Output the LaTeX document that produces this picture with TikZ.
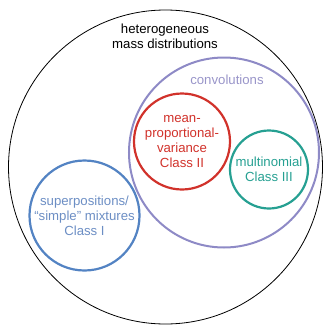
\documentclass[tikz,border=0pt]{standalone}
\usepackage{fontspec}
\setmainfont{Liberation Sans}
\usepackage{tikz}
\usetikzlibrary{positioning}
\definecolor{convcol}{HTML}{8E8AC6}
\definecolor{convtext}{HTML}{9995C9}
\definecolor{mpvcol}{HTML}{D1322B}
\definecolor{multicol}{HTML}{26A092}
\definecolor{supcol}{HTML}{5383C3}
\definecolor{suptext}{HTML}{6C8EC4}
\tikzstyle{ring}=[circle, draw, inner sep=0pt, line width=2.2pt]
\tikzstyle{lbl}=[align=center, inner sep=0pt, font=\fontsize{13.2}{15}\selectfont]

\begin{document}
\begin{tikzpicture}[x=1pt,y=-1pt]
	\useasboundingbox (0,0) rectangle (323,325);
	% big circle
	\node[circle,draw,inner sep=0pt,line width=0.8pt,minimum size=314pt](outer) at (165.5,167) {};
	\node[lbl](outerlbl) at (165,36) {heterogeneous\\mass distributions};
	
	\node[ring,draw=convcol,line width=2pt,minimum size=190pt](conv) at (224,152.5) {};
	\node[lbl,text=convtext](convlbl) at (227,80) {convolutions};
	
	\node[ring,draw=mpvcol,minimum size=96pt](mpv) at (182,141.5) {};
	\node[lbl,text=mpvcol](mpvlbl) at (mpv.center) {mean-\\proportional-\\variance\\Class II};
	
	\node[ring,draw=multicol,minimum size=78pt](multi) at (269,169.5) {};
	\node[lbl,text=multicol](multilbl) at (multi.center) {multinomial\\Class III};
	
	\node[ring,draw=supcol,minimum size=110pt](superpos) at (84.5,215.5) {};
	\node[lbl,text=suptext](superposlbl) at (superpos.center) {superpositions/\\``simple'' mixtures\\Class I};
\end{tikzpicture}
\end{document}
